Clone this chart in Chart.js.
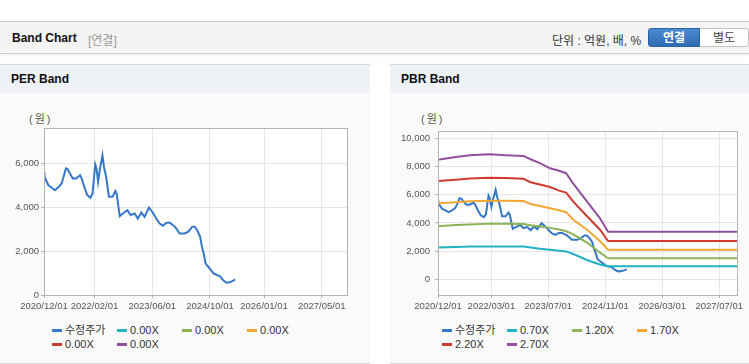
<!DOCTYPE html>
<html lang="ko">
<head>
<meta charset="utf-8">
<script src="https://cdn.jsdelivr.net/npm/chart.js@4.4.1/dist/chart.umd.min.js"></script>
<style>
  body { margin: 0; width: 749px; height: 364px; background: #fff; position: relative; overflow: hidden;
         font-family: 'Liberation Sans', Arial, 'Noto Sans CJK KR', sans-serif; color: #333; }
  .topbar { position: absolute; left: 0; top: 21px; width: 749px; height: 31px; background: #f4f4f4;
            border-top: 1px solid #c6c6c6; border-bottom: 1px solid #cfcfcf; box-shadow: 0 2px 2px rgba(0,0,0,0.06); }
  .topbar .title { position: absolute; left: 12px; top: 9px; font-size: 12px; font-weight: bold; color: #111; }
  .topbar .sub { position: absolute; left: 88px; top: 9px; font-size: 12px; color: #999; }
  .topbar .unit { position: absolute; left: 552px; top: 9px; font-size: 12px; color: #333; }
  .btn { position: absolute; top: 6px; height: 19px; line-height: 19px; font-size: 12px; text-align: center; box-sizing: border-box; }
  .btn.on { left: 648px; width: 52px; background: linear-gradient(#4a8ad0, #2f6cb3); color: #fff; font-weight: bold;
            border: 1px solid #2b62a3; border-radius: 3px 0 0 3px; }
  .btn.off { left: 700px; width: 49px; background: #fff; color: #444; border: 1px solid #c4c4c4; border-left: none;
             border-radius: 0 3px 3px 0; }
  .panel { position: absolute; top: 64px; height: 298px; background: #fafafa; border-top: 1px solid #d8d8d8; border-bottom: 1px solid #d8d8d8; }
  .panel .head { height: 28px; background: #eef2f7; font-size: 12px; font-weight: bold; color: #111; line-height: 28px; padding-left: 11px; }
  .panel .unitlbl { position: absolute; top: 45px; font-size: 11px; color: #555; letter-spacing: 2px; }
  .panel canvas { position: absolute; top: 55px; }
  .legend { position: absolute; top: 258px; font-size: 11px; color: #333; }
  .legend .item { position: absolute; white-space: nowrap; height: 14px; line-height: 14px; }
  .legend .sw { display: inline-block; width: 10px; height: 3px; vertical-align: middle; margin-right: 3px; margin-top: -2px; }
</style>
</head>
<body>
<div class="topbar">
  <span class="title">Band Chart</span>
  <span class="sub">[연결]</span>
  <span class="unit">단위 : 억원, 배, %</span>
  <span class="btn on">연결</span>
  <span class="btn off">별도</span>
</div>

<div class="panel" style="left:0; width:370px;">
  <div class="head">PER Band</div>
  <span class="unitlbl" style="left:29px;">(원)</span>
  <canvas id="per-chart" width="370" height="200" style="left:0;"></canvas>
  <div class="legend" id="per-legend" style="left:52px;"></div>
</div>

<div class="panel" style="left:390px; width:359px;">
  <div class="head">PBR Band</div>
  <span class="unitlbl" style="left:31px;">(원)</span>
  <canvas id="pbr-chart" width="359" height="200" style="left:0;"></canvas>
  <div class="legend" id="pbr-legend" style="left:52px;"></div>
</div>

<script>
// 수정주가 (adjusted price)
const priceDates = [
  '2020/12/01', '2020/12/05', '2021/01/07', '2021/02/03', '2021/03/01', '2021/03/28', '2021/04/28', '2021/05/10',
  '2021/06/03', '2021/06/20', '2021/07/03', '2021/08/01', '2021/08/28', '2021/10/01', '2021/10/15', '2021/11/10',
  '2021/12/01', '2021/12/28', '2022/01/15', '2022/02/07', '2022/02/18', '2022/03/01', '2022/03/15', '2022/04/07',
  '2022/04/20', '2022/05/08', '2022/06/01', '2022/07/01', '2022/07/25', '2022/08/05', '2022/09/01', '2022/09/28',
  '2022/11/05', '2022/12/01', '2023/01/05', '2023/02/01', '2023/03/01', '2023/03/28', '2023/05/04', '2023/06/01',
  '2023/07/05', '2023/08/01', '2023/09/01', '2023/09/28', '2023/10/28', '2023/12/10', '2024/01/20', '2024/03/01',
  '2024/04/01', '2024/05/05', '2024/05/25', '2024/06/15', '2024/07/10', '2024/07/25', '2024/08/12', '2024/08/25',
  '2024/09/10', '2024/10/05', '2024/11/01', '2024/11/28', '2024/12/25', '2025/01/20', '2025/02/18', '2025/03/15',
  '2025/04/15', '2025/05/01'
];
const priceValues = [
  5600, 5380, 5000, 4890, 4770, 4890, 5075, 5300,
  5760, 5710, 5560, 5300, 5300, 5450, 5300, 4850,
  4545, 4420, 4620, 5950, 5760, 5150, 5680, 6360,
  5830, 5380, 4470, 4470, 4730, 4620, 3590, 3710,
  3860, 3640, 3710, 3480, 3750, 3560, 3980, 3790,
  3480, 3260, 3150, 3290, 3290, 3110, 2800, 2800,
  2880, 3110, 3110, 2950, 2650, 2200, 1820, 1440,
  1330, 1170, 985, 910, 860, 680, 560, 575,
  650, 710
];

// PBR band lines
const bandDates = [
  '2020/12/01', '2021/05/01', '2021/09/01', '2022/02/15', '2022/07/01', '2022/12/01', '2023/02/01', '2023/04/20',
  '2023/07/15', '2023/10/01', '2023/12/01', '2024/02/01', '2024/06/01', '2024/09/15', '2024/11/25', '2027/12/01'
];
const pbr070 = [2256, 2300, 2326, 2326, 2326, 2326, 2256, 2175, 2093, 2030, 1977, 1791, 1350, 1047, 930, 930];
const pbr120 = [3768, 3850, 3900, 3954, 3945, 3931, 3838, 3745, 3652, 3530, 3419, 3187, 2590, 1907, 1489, 1489];
const pbr170 = [5396, 5480, 5540, 5582, 5575, 5560, 5350, 5200, 5047, 4900, 4768, 4233, 3500, 2721, 2093, 2093];
const pbr220 = [6978, 7080, 7160, 7210, 7190, 7140, 6900, 6730, 6560, 6300, 6164, 5513, 4440, 3536, 2720, 2720];
const pbr270 = [8490, 8690, 8815, 8885, 8820, 8770, 8530, 8260, 7885, 7710, 7540, 6790, 5480, 4350, 3370, 3370];

const perSeriesNames = ['수정주가', '0.00X', '0.00X', '0.00X', '0.00X', '0.00X'];
const pbrSeriesNames = ['수정주가', '0.70X', '1.20X', '1.70X', '2.20X', '2.70X'];
const seriesColors = ['#3478c6', '#22b2c3', '#8cb356', '#f2a733', '#d13a2e', '#90509e'];

const perTickLabels = ['2020/12/01', '2022/02/01', '2023/06/01', '2024/10/01', '2026/01/01', '2027/05/01'];
const pbrTickLabels = ['2020/12/01', '2022/03/01', '2023/07/01', '2024/11/01', '2026/03/01', '2027/07/01'];
const axisStart = '2020/12/01';
const axisEnd = '2027/12/01';
const perYTicks = [0, 2000, 4000, 6000];
const pbrYTicks = [0, 2000, 4000, 6000, 8000, 10000];

// months since axisStart
function monthIndex(s) {
  const p = s.split('/').map(Number);
  const b = axisStart.split('/').map(Number);
  return (p[0] - b[0]) * 12 + (p[1] - b[1]) + (p[2] - 1) / 30.5;
}

function toPoints(dates, values) {
  return dates.map((d, i) => ({ x: monthIndex(d), y: values[i] }));
}

const plotFrame = {
  id: 'plotFrame',
  beforeDraw(chart) {
    const a = chart.chartArea, ctx = chart.ctx;
    ctx.save();
    ctx.fillStyle = '#fff';
    ctx.fillRect(a.left, a.top, a.right - a.left, a.bottom - a.top);
    ctx.restore();
  },
  afterDatasetsDraw(chart) {
    const a = chart.chartArea, ctx = chart.ctx;
    ctx.save();
    ctx.strokeStyle = '#b4b4b4';
    ctx.lineWidth = 1;
    ctx.strokeRect(Math.round(a.left) + 0.5, Math.round(a.top) + 0.5, Math.round(a.right - a.left), Math.round(a.bottom - a.top));
    ctx.restore();
  }
};

function makeChart(id, datasets, tickLabels, yTicks, yMin, yMax, yWidth, yPad, padRight) {
  const tickFont = { family: "'Liberation Sans', Arial, sans-serif", size: 9.5 };
  return new Chart(document.getElementById(id), {
    type: 'line',
    data: { datasets: datasets },
    options: {
      responsive: false,
      animation: false,
      devicePixelRatio: 1,
      layout: { padding: { top: 8, right: padRight, bottom: 0, left: 0 } },
      plugins: { legend: { display: false }, tooltip: { enabled: false } },
      elements: { point: { radius: 0 }, line: { borderWidth: 2, tension: 0 } },
      scales: {
        x: {
          type: 'linear',
          min: 0,
          max: monthIndex(axisEnd),
          afterBuildTicks: s => { s.ticks = tickLabels.map(t => ({ value: monthIndex(t) })); },
          afterFit: s => { s.height = 25; },
          ticks: { autoSkip: false, maxRotation: 0, padding: 3, color: '#555', font: tickFont,
                   callback: (v, i) => tickLabels[i] },
          grid: { color: '#e6e6e6', tickColor: '#b4b4b4', tickLength: 3 },
          border: { display: false }
        },
        y: {
          min: yMin,
          max: yMax,
          afterBuildTicks: s => { s.ticks = yTicks.map(v => ({ value: v })); },
          afterFit: s => { s.width = yWidth; },
          ticks: { padding: yPad, color: '#555', font: tickFont,
                   callback: v => v.toLocaleString('en-US') },
          grid: { color: '#e6e6e6', tickColor: '#b4b4b4', tickLength: 3 },
          border: { display: false }
        }
      }
    },
    plugins: [plotFrame]
  });
}

function buildLegend(id, names) {
  const el = document.getElementById(id);
  names.forEach((name, i) => {
    const item = document.createElement('div');
    item.className = 'item';
    item.style.left = (i % 4) * 65 + 'px';
    item.style.top = Math.floor(i / 4) * 14 + 'px';
    item.innerHTML = '<span class="sw" style="background:' + seriesColors[i] + '"></span>' + name;
    el.appendChild(item);
  });
}

function lineSet(label, color, data) {
  return { label: label, data: data, borderColor: color, backgroundColor: color, fill: false };
}

window.addEventListener('load', () => {
  makeChart('per-chart', [
    lineSet(perSeriesNames[0], seriesColors[0], toPoints(priceDates, priceValues)),
    lineSet(perSeriesNames[1], seriesColors[1], []),
    lineSet(perSeriesNames[2], seriesColors[2], []),
    lineSet(perSeriesNames[3], seriesColors[3], []),
    lineSet(perSeriesNames[4], seriesColors[4], []),
    lineSet(perSeriesNames[5], seriesColors[5], [])
  ], perTickLabels, perYTicks, 0, 7600, 44, 2, 23);

  makeChart('pbr-chart', [
    lineSet(pbrSeriesNames[5], seriesColors[5], toPoints(bandDates, pbr270)),
    lineSet(pbrSeriesNames[4], seriesColors[4], toPoints(bandDates, pbr220)),
    lineSet(pbrSeriesNames[3], seriesColors[3], toPoints(bandDates, pbr170)),
    lineSet(pbrSeriesNames[2], seriesColors[2], toPoints(bandDates, pbr120)),
    lineSet(pbrSeriesNames[1], seriesColors[1], toPoints(bandDates, pbr070)),
    lineSet(pbrSeriesNames[0], seriesColors[0], toPoints(priceDates, priceValues))
  ], pbrTickLabels, pbrYTicks, -1120, 10560, 48, 5, 12);

  buildLegend('per-legend', perSeriesNames);
  buildLegend('pbr-legend', pbrSeriesNames);
});
</script>
</body>
</html>
